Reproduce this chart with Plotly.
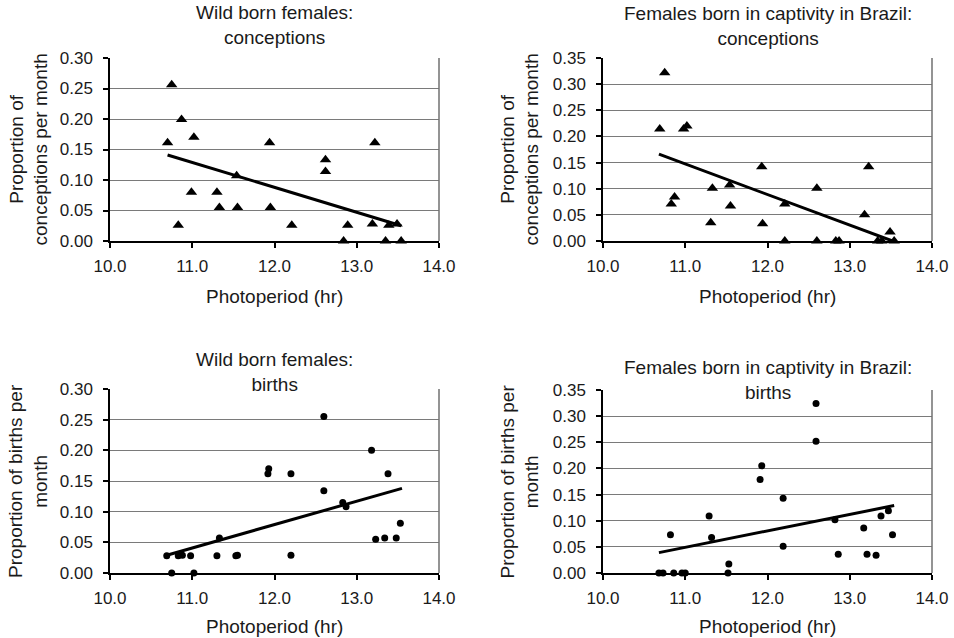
import plotly.graph_objects as go

# ---------------- data ----------------
# Wild born females: conceptions
wc_x = [10.70, 10.75, 10.83, 10.87, 10.99, 11.02, 11.30, 11.33, 11.54, 11.55, 11.94, 11.95,
        12.21, 12.62, 12.62, 12.84, 12.89, 13.19, 13.22, 13.35, 13.39, 13.49, 13.54]
wc_y = [0.161, 0.256, 0.026, 0.199, 0.080, 0.170, 0.080, 0.055, 0.107, 0.055, 0.161, 0.055,
        0.026, 0.133, 0.114, 0.000, 0.026, 0.028, 0.161, 0.000, 0.026, 0.028, 0.000]
wc_trend_x = [10.70, 13.54]
wc_trend_y = [0.141, 0.025]

# Females born in captivity in Brazil: conceptions
cc_x = [10.69, 10.75, 10.83, 10.87, 10.98, 11.02, 11.31, 11.33, 11.54, 11.55, 11.93, 11.94,
        12.21, 12.21, 12.60, 12.60, 12.83, 12.87, 13.18, 13.23, 13.34, 13.39, 13.49, 13.54]
cc_y = [0.214, 0.322, 0.071, 0.084, 0.214, 0.220, 0.035, 0.101, 0.107, 0.067, 0.142, 0.033,
        0.071, 0.000, 0.101, 0.000, 0.000, 0.000, 0.050, 0.142, 0.000, 0.000, 0.017, 0.000]
cc_trend_x = [10.68, 13.52]
cc_trend_y = [0.166, 0.000]

# Wild born females: births
wb_x = [10.69, 10.75, 10.83, 10.88, 10.98, 11.02, 11.30, 11.33, 11.53, 11.55, 11.92, 11.93,
        12.20, 12.20, 12.60, 12.60, 12.83, 12.87, 13.18, 13.23, 13.34, 13.38, 13.48, 13.53]
wb_y = [0.028, 0.000, 0.028, 0.029, 0.028, 0.000, 0.028, 0.057, 0.028, 0.029, 0.162, 0.170,
        0.162, 0.029, 0.255, 0.134, 0.115, 0.108, 0.200, 0.055, 0.057, 0.162, 0.057, 0.081]
wb_trend_x = [10.69, 13.55]
wb_trend_y = [0.029, 0.138]

# Females born in captivity in Brazil: births
cb_x = [10.68, 10.73, 10.82, 10.86, 10.96, 11.00, 11.29, 11.32, 11.52, 11.53, 11.91, 11.93,
        12.19, 12.19, 12.59, 12.59, 12.82, 12.86, 13.17, 13.21, 13.32, 13.38, 13.47, 13.52]
cb_y = [0.000, 0.000, 0.073, 0.000, 0.000, 0.000, 0.109, 0.068, 0.000, 0.017, 0.179, 0.205,
        0.143, 0.051, 0.324, 0.252, 0.102, 0.036, 0.086, 0.036, 0.034, 0.109, 0.119, 0.073]
cb_trend_x = [10.68, 13.54]
cb_trend_y = [0.039, 0.129]

titles = ["Wild born females:<br>conceptions",
          "Females born in captivity in Brazil:<br>conceptions",
          "Wild born females:<br>births",
          "Females born in captivity in Brazil:<br>births"]
ytitles = ["Proportion of<br>conceptions per month",
           "Proportion of<br>conceptions per month",
           "Proportion of births per<br>month",
           "Proportion of births per<br>month"]
xtitle = "Photoperiod (hr)"
x_ticks = [10.0, 11.0, 12.0, 13.0, 14.0]
y_max = [0.30, 0.35, 0.30, 0.35]

# ---------------- layout geometry (pixels) ----------------
W, H = 954, 638
FONT = "Liberation Sans, Arial, sans-serif"
TXT = "#1a1a1a"

def px(x):
    return x / W

def py(y):
    return 1 - y / H

panels = [
    dict(x0=110, x1=439, top=58, bot=241, title_y=25, ytx=28, xty=296),
    dict(x0=603, x1=932, top=58, bot=241, title_y=26, ytx=519, xty=296),
    dict(x0=110, x1=439, top=389, bot=573, title_y=372, ytx=28, xty=626),
    dict(x0=603, x1=932, top=390, bot=573, title_y=380, ytx=519, xty=626),
]

series = [
    (wc_x, wc_y, wc_trend_x, wc_trend_y, "triangle-up", 10),
    (cc_x, cc_y, cc_trend_x, cc_trend_y, "triangle-up", 10),
    (wb_x, wb_y, wb_trend_x, wb_trend_y, "circle", 7),
    (cb_x, cb_y, cb_trend_x, cb_trend_y, "circle", 7),
]

fig = go.Figure()
layout = dict(width=W, height=H, margin=dict(l=0, r=0, t=0, b=0, autoexpand=False),
              template="none",
              paper_bgcolor="white", plot_bgcolor="white", showlegend=False,
              font=dict(family=FONT, color=TXT, size=17))
annotations = []
shapes = []

for i, (p, s) in enumerate(zip(panels, series)):
    n = i + 1
    xa = "x" if n == 1 else f"x{n}"
    ya = "y" if n == 1 else f"y{n}"
    xs, ys, tx, ty, sym, msz = s
    fig.add_trace(go.Scatter(x=xs, y=ys, mode="markers", xaxis=xa, yaxis=ya,
                             marker=dict(symbol=sym, size=msz, color="black",
                                         line=dict(width=0)),
                             cliponaxis=False))
    fig.add_trace(go.Scatter(x=tx, y=ty, mode="lines", xaxis=xa, yaxis=ya,
                             line=dict(color="black", width=3)))
    yt = [round(k * 0.05, 2) for k in range(int(round(y_max[i] / 0.05)) + 1)]
    layout["xaxis" if n == 1 else f"xaxis{n}"] = dict(
        domain=[px(p["x0"]), px(p["x1"])], anchor=ya, range=[10, 14],
        automargin=False,
        tickvals=x_ticks, ticktext=[f"{v:.1f}" for v in x_ticks],
        showgrid=False, zeroline=False, showline=True, linecolor="black", linewidth=1.5,
        ticks="outside", ticklen=5, tickcolor="black", tickwidth=1.5,
        tickfont=dict(size=17, color=TXT, family=FONT), ticklabelstandoff=4)
    layout["yaxis" if n == 1 else f"yaxis{n}"] = dict(
        domain=[py(p["bot"]), py(p["top"])], anchor=xa, range=[0, y_max[i]],
        automargin=False,
        tickvals=yt, ticktext=[f"{v:.2f}" for v in yt],
        showgrid=True, gridcolor="#7a7a7a", gridwidth=1.2, zeroline=False,
        showline=True, linecolor="black", linewidth=1.5,
        ticks="outside", ticklen=5, tickcolor="black", tickwidth=1.5,
        tickfont=dict(size=17, color=TXT, family=FONT), ticklabelstandoff=7)
    # right frame edge
    shapes.append(dict(type="line", xref=f"{xa} domain", yref=f"{ya} domain",
                       x0=1, x1=1, y0=0, y1=1, line=dict(color="#707070", width=1.5)))
    cx = (p["x0"] + p["x1"]) / 2
    annotations.append(dict(text=titles[i], x=px(cx), y=py(p["title_y"]), xref="paper",
                            yref="paper", xanchor="center", yanchor="middle",
                            showarrow=False, font=dict(size=19, color=TXT, family=FONT)))
    annotations.append(dict(text=xtitle, x=px(cx), y=py(p["xty"]), xref="paper",
                            yref="paper", xanchor="center", yanchor="middle",
                            showarrow=False, font=dict(size=19, color=TXT, family=FONT)))
    cy = (p["top"] + p["bot"]) / 2
    annotations.append(dict(text=ytitles[i], x=px(p["ytx"]), y=py(cy), xref="paper",
                            yref="paper", xanchor="center", yanchor="middle",
                            textangle=-90, showarrow=False,
                            font=dict(size=19, color=TXT, family=FONT)))

layout["annotations"] = annotations
layout["shapes"] = shapes
fig.update_layout(**layout)
fig.write_html("out.html", config={"displayModeBar": False},
               post_script="document.body.style.margin='0';document.body.style.overflow='hidden';")
